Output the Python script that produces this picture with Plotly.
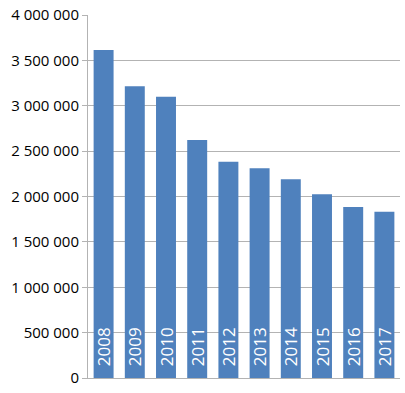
import plotly.graph_objects as go

years = ["2008", "2009", "2010", "2011", "2012", "2013", "2014", "2015", "2016", "2017"]
values = [3614000, 3214000, 3100000, 2623000, 2384000, 2311000, 2190000, 2024000, 1884000, 1833000]
y_ticks = [0, 500000, 1000000, 1500000, 2000000, 2500000, 3000000, 3500000, 4000000]

fig = go.Figure(go.Bar(
    x=years, y=values, text=["  " + y for y in years],
    marker=dict(color="#4F81BD", line=dict(width=0)),
    textposition="inside", insidetextanchor="start", textangle=-90,
    constraintext="none",
    textfont=dict(color="white", size=17, family="Open Sans"),
    cliponaxis=False,
))

fig.update_layout(
    width=405, height=393,
    margin=dict(l=88, r=5, t=15, b=15),
    paper_bgcolor="white", plot_bgcolor="white",
    separators=", ",
    bargap=0.36,
    showlegend=False,
    font=dict(family="Open Sans", size=15, color="black"),
)
fig.update_yaxes(
    range=[0, 4000000], tickvals=y_ticks, tickformat=",d",
    showgrid=True, gridcolor="#b3b3b3", gridwidth=1,
    showline=True, linecolor="#b3b3b3", linewidth=1,
    ticks="outside", ticklen=5, tickcolor="#b3b3b3",
    zeroline=False, ticksuffix="  ",
)
fig.update_xaxes(
    showticklabels=False, showline=True, linecolor="#b3b3b3", linewidth=1,
    showgrid=False, ticks="",
)

fig.write_html("out.html")
